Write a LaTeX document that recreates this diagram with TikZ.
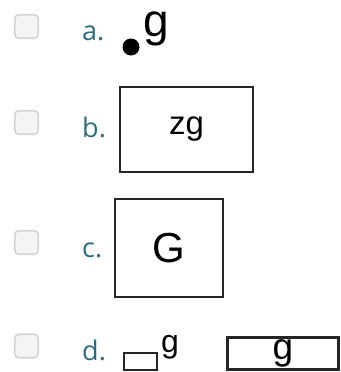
\documentclass[tikz,border=0pt]{standalone}
\usepackage{fontspec}
\setmainfont{Liberation Sans}
\newfontfamily\labfont{Open Sans}
\definecolor{labteal}{HTML}{2E6C80}
\definecolor{chkfill}{HTML}{F4F4F4}
\definecolor{chkline}{HTML}{D4D4D4}
\begin{document}
\begin{tikzpicture}[x=1pt,y=-1pt,
      chk/.style = {shape=rectangle, rounded corners=4pt, draw=chkline,
        fill=chkfill, line width=1.6pt, minimum size=23.5pt, inner sep=0pt},
      lab/.style = {anchor=base west, inner sep=0pt, text=labteal,
        font=\labfont\fontsize{27}{27}\selectfont},
      frame/.style = {shape=rectangle, draw=black!85, line width=2.6pt,
        inner sep=0pt}]
  \useasboundingbox (0,0) rectangle (340,372);
  % option a
  \node[chk] (chkA) at (26.5,26.5) {};
  \node[lab] (labA) at (82,40) {a.};
  \node[circle, fill, minimum size=17pt, inner sep=0pt] (dotA) at (131,47) {};
  \node[anchor=base west, inner sep=0pt, font=\fontsize{46}{46}\selectfont]
    (gA) at (143,36) {g};
  % option b
  \node[chk] (chkB) at (26.5,122.5) {};
  \node[lab] (labB) at (82,137) {b.};
  \node[frame, minimum width=133pt, minimum height=85pt,
    font=\fontsize{33}{33}\selectfont] (boxB) at (186.5,129.5) {zg};
  % option c
  \node[chk] (chkC) at (26.5,242.5) {};
  \node[lab] (labC) at (82,257) {c.};
  \node[frame, minimum width=108pt, minimum height=98pt,
    font=\fontsize{42}{42}\selectfont] (boxC) at (169,248) {G};
  % option d
  \node[chk] (chkD) at (26.5,346) {};
  \node[lab] (labD) at (82,360) {d.};
  \node[frame, minimum width=33pt, minimum height=17pt] (boxD) at (140.5,361.5) {};
  \node[anchor=base west, inner sep=0pt, font=\fontsize{32}{32}\selectfont]
    (gD) at (161,352) {g};
  \node[frame, minimum width=111pt, minimum height=32pt,
    font=\fontsize{37}{37}\selectfont] (wideD) at (283,353.5) {g};
\end{tikzpicture}
\end{document}
